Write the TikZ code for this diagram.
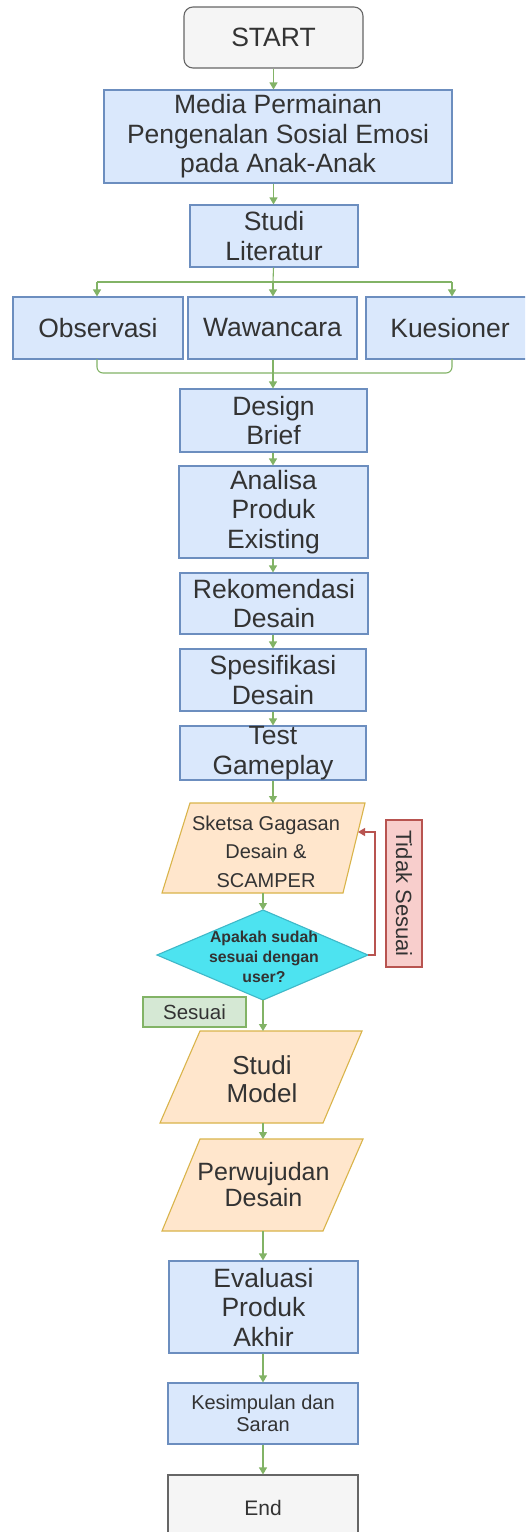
\documentclass[tikz,border=0pt]{standalone}
\usepackage{fontspec}
\setmainfont{Liberation Sans}
\usetikzlibrary{arrows.meta}
\definecolor{procfill}{HTML}{DAE8FC}
\definecolor{procline}{HTML}{6C8EBF}
\definecolor{termfill}{HTML}{F5F5F5}
\definecolor{termline}{HTML}{666666}
\definecolor{iofill}{HTML}{FFE6CC}
\definecolor{ioline}{HTML}{D9B44A}
\definecolor{decfill}{HTML}{4DE3F0}
\definecolor{decline}{HTML}{3FB8C8}
\definecolor{arrgreen}{HTML}{82B366}
\definecolor{okfill}{HTML}{D5E8D4}
\definecolor{nofill}{HTML}{F8CECC}
\definecolor{noline}{HTML}{B85450}
\definecolor{txt}{HTML}{333333}
\tikzset{
  proc/.style={draw=procline, fill=procfill, text=txt, align=center, inner sep=0pt, line width=1.1pt,
    font=\fontsize{26.5}{29.5}\selectfont},
  term/.style={draw=termline, fill=termfill, text=txt, align=center, inner sep=0pt, line width=1.1pt},
  iotext/.style={text=txt, align=center, inner sep=0pt},
  conn/.style={draw=arrgreen, line width=1.1pt},
  arr/.style={conn, -{Triangle[length=7pt,width=8pt]}},
  redarr/.style={draw=noline, line width=1.1pt, -{Triangle[length=7pt,width=8pt]}},
}
\begin{document}
\begin{tikzpicture}[x=1pt,y=-1pt]
\useasboundingbox (0,0) rectangle (525,1532);
\clip (0,0) rectangle (525,1532);
\fill[white] (0,0) rectangle (525,1532);

% top boxes
\node[term, rounded corners=9pt, minimum width=179pt, minimum height=61pt, font=\fontsize{26.5}{29}\selectfont] (start) at (273.5,37.5) {START};
\node[proc, minimum width=348pt, minimum height=93pt] (media) at (278,136.5) {Media Permainan\\Pengenalan Sosial Emosi\\pada Anak-Anak};
\node[proc, minimum width=168pt, minimum height=62pt] (studi) at (274,236) {Studi\\Literatur};
\node[proc, minimum width=170pt, minimum height=62pt] (obs) at (98,328) {Observasi};
\node[proc, minimum width=169pt, minimum height=62pt] (waw) at (272.5,328) {Wawancara};
\node[proc, minimum width=168pt, minimum height=62pt] (kues) at (450,328) {Kuesioner};
\node[proc, minimum width=187pt, minimum height=63pt] (design) at (273.5,420.5) {Design\\Brief};
\node[proc, minimum width=189pt, minimum height=92pt] (analisa) at (273.5,512) {Analisa\\Produk\\Existing};
\node[proc, minimum width=188pt, minimum height=61pt] (rekom) at (274,603.5) {Rekomendasi\\Desain};
\node[proc, minimum width=186pt, minimum height=62pt] (spes) at (273,680) {Spesifikasi\\Desain};
\node[proc, minimum width=186pt, minimum height=54pt] (test) at (273,753) {Test\\Gameplay};

% sketsa parallelogram
\draw[fill=iofill, draw=ioline, line width=1.1pt] (190,803) -- (365,803) -- (343,893) -- (162,893) -- cycle;
\node[iotext, font=\fontsize{20}{28.5}\selectfont] (sketsa) at (266,851.5) {Sketsa Gagasan\\Desain \&\\SCAMPER};
\coordinate (sktop) at (273,803);
\coordinate (skbot) at (263,893);
\coordinate (skright) at (358,832);

% decision diamond
\draw[fill=decfill, draw=decline, line width=1.1pt] (263,910) -- (368,955) -- (263,1000) -- (157,955) -- cycle;
\node[iotext, font=\bfseries\fontsize{15.8}{20}\selectfont] (dec) at (264,957) {Apakah sudah\\sesuai dengan\\user?};
\coordinate (dtop) at (263,910);
\coordinate (dright) at (368,955);
\coordinate (dbot) at (263,1000);

% labels
\node[draw=noline, fill=nofill, text=txt, line width=1.1pt, inner sep=0pt, rotate=-90,
  minimum width=147pt, minimum height=36pt, font=\fontsize{22}{24}\selectfont] (tidak) at (404,893.5) {Tidak Sesuai};
\node[draw=arrgreen, fill=okfill, text=txt, line width=1.1pt, inner sep=0pt,
  minimum width=103pt, minimum height=30pt, font=\fontsize{20.5}{22}\selectfont] (sesuai) at (194.5,1012) {Sesuai};

% studi model parallelogram
\draw[fill=iofill, draw=ioline, line width=1.1pt] (200,1031) -- (362,1031) -- (323,1123) -- (160,1123) -- cycle;
\node[iotext, font=\fontsize{26}{28}\selectfont] (model) at (262,1079) {Studi\\Model};
\coordinate (mtop) at (263,1031);
\coordinate (mbot) at (263,1123);

% perwujudan parallelogram
\draw[fill=iofill, draw=ioline, line width=1.1pt] (200,1139) -- (363,1139) -- (323,1231) -- (162,1231) -- cycle;
\node[iotext, font=\fontsize{25}{26}\selectfont] (perw) at (263.5,1185) {Perwujudan\\Desain};
\coordinate (ptop) at (263,1139);
\coordinate (pbot) at (263,1231);

% bottom boxes
\node[proc, minimum width=189pt, minimum height=92pt] (eval) at (263.5,1307) {Evaluasi\\Produk\\Akhir};
\node[proc, minimum width=190pt, minimum height=61pt, font=\fontsize{20}{21.5}\selectfont] (kesim) at (263,1413.5) {Kesimpulan dan\\Saran};
\node[term, minimum width=190pt, minimum height=65pt, font=\fontsize{21}{24}\selectfont] (end) at (263,1507.5) {End};

% connectors
\draw[arr] (start.south) -- (start.south |- media.north);
\draw[arr] (media.south -| start.south) -- (start.south |- studi.north);

\coordinate (fork) at (273,282);
\coordinate (forkL) at (97,282);
\coordinate (forkR) at (452,282);
\draw[conn] (start.south |- studi.south) -- (fork);
\draw[conn] (forkL) -- (forkR);
\draw[arr] (forkL) -- (forkL |- obs.north);
\draw[arr] (fork) -- (fork |- waw.north);
\draw[arr] (forkR) -- (forkR |- kues.north);

\coordinate (mL) at (97,359);
\coordinate (mR) at (452,359);
\draw[conn, rounded corners=6pt] (mL) -- ++(0,14) -| (mR);
\draw[arr] (fork |- waw.south) -- (fork |- design.north);

\draw[arr] (fork |- design.south) -- (fork |- analisa.north);
\draw[arr] (fork |- analisa.south) -- (fork |- rekom.north);
\draw[arr] (fork |- rekom.south) -- (fork |- spes.north);
\draw[arr] (fork |- spes.south) -- (fork |- test.north);
\draw[arr] (fork |- test.south) -- (sktop);
\draw[arr] (skbot) -- (dtop);
\draw[redarr] (dright) -- ++(7,0) |- (skright);
\draw[arr] (dbot) -- (mtop);
\draw[arr] (mbot) -- (ptop);
\draw[arr] (pbot) -- (pbot |- eval.north);
\draw[arr] (pbot |- eval.south) -- (pbot |- kesim.north);
\draw[arr] (pbot |- kesim.south) -- (pbot |- end.north);
\end{tikzpicture}
\end{document}
